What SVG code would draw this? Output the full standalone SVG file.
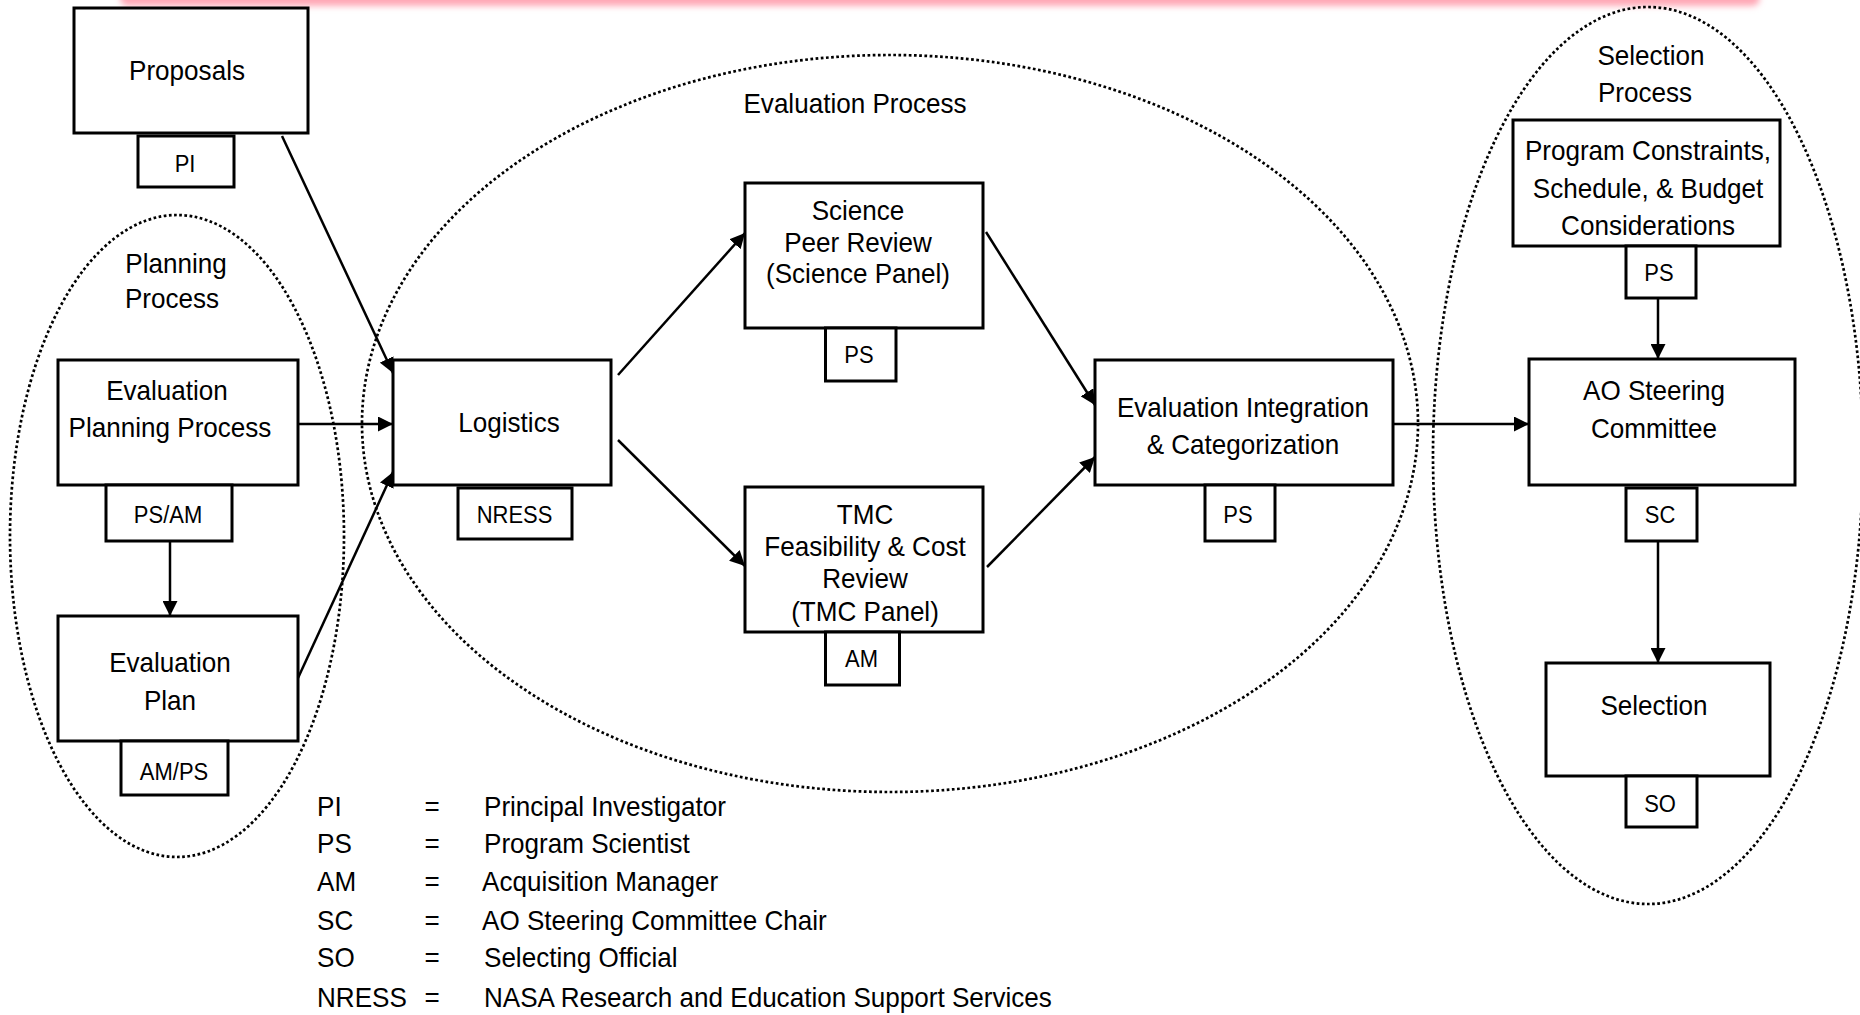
<svg xmlns="http://www.w3.org/2000/svg" width="1860" height="1015" viewBox="0 0 1860 1015">
  <style>
    .box { fill: #ffffff; stroke: #000000; stroke-width: 3; }
    .grp { fill: none; stroke: #000000; stroke-width: 2.7; stroke-dasharray: 2.7 2.5; }
    .con { fill: none; stroke: #000000; stroke-width: 2.5; marker-end: url(#arr); }
    text { font-family: "Liberation Sans", Arial, sans-serif; fill: #000000; }
    .t { font-size: 28.5px; text-anchor: middle; }
    .s { font-size: 24px; text-anchor: middle; }
    .l { font-size: 28.5px; text-anchor: start; }
    .lm { font-size: 28.5px; text-anchor: middle; }
  </style>
  <defs>
    <marker id="arr" markerUnits="userSpaceOnUse" markerWidth="15" markerHeight="15" refX="15" refY="7.5" orient="auto">
      <path d="M0,0 L15,7.5 L0,15 z" fill="#000000"/>
    </marker>
    <filter id="blur" x="-5%" y="-100%" width="110%" height="300%">
      <feGaussianBlur stdDeviation="3"/>
    </filter>
  </defs>
  <rect x="0" y="0" width="1860" height="1015" fill="#ffffff"/>
  <rect x="120" y="-10" width="1640" height="16" rx="8" fill="#ffa8b6" filter="url(#blur)"/>

  <!-- group ellipses -->
  <g id="planning-process">
    <ellipse class="grp" cx="177" cy="536" rx="167" ry="321"/>
    <text class="t" transform="translate(176,273) scale(0.915 1)">Planning</text>
    <text class="t" transform="translate(172,308) scale(0.915 1)">Process</text>
  </g>
  <g id="evaluation-process">
    <ellipse class="grp" cx="890" cy="423.5" rx="528" ry="368.5"/>
    <text class="t" transform="translate(855,113) scale(0.915 1)">Evaluation Process</text>
  </g>
  <g id="selection-process">
    <ellipse class="grp" cx="1648" cy="455.5" rx="215" ry="448.5"/>
    <text class="t" transform="translate(1651,65) scale(0.915 1)">Selection</text>
    <text class="t" transform="translate(1645,102) scale(0.915 1)">Process</text>
  </g>

  <!-- connectors -->
  <g id="connectors">
    <line class="con" x1="282" y1="136" x2="393" y2="373"/>
    <line class="con" x1="298" y1="424" x2="393" y2="424"/>
    <line class="con" x1="170" y1="541" x2="170" y2="616"/>
    <line class="con" x1="298" y1="678" x2="393" y2="472"/>
    <line class="con" x1="618" y1="375" x2="745" y2="233"/>
    <line class="con" x1="618" y1="440" x2="745" y2="566"/>
    <line class="con" x1="986" y1="232" x2="1095" y2="405"/>
    <line class="con" x1="987" y1="567" x2="1095" y2="457"/>
    <line class="con" x1="1393" y1="424" x2="1529" y2="424"/>
    <line class="con" x1="1658" y1="298" x2="1658" y2="359"/>
    <line class="con" x1="1658" y1="541" x2="1658" y2="663"/>
  </g>

  <!-- nodes -->
  <g id="proposals">
    <rect class="box" x="74" y="8" width="234" height="125"/>
    <text class="t" transform="translate(187,80) scale(0.915 1)">Proposals</text>
  </g>
  <g id="proposals-role">
    <rect class="box" x="138" y="136" width="96" height="51"/>
    <text class="s" transform="translate(185,172) scale(0.915 1)">PI</text>
  </g>
  <g id="evaluation-planning-process">
    <rect class="box" x="58" y="360" width="240" height="125"/>
    <text class="t" transform="translate(167,400) scale(0.915 1)">Evaluation</text>
    <text class="t" transform="translate(170,437) scale(0.915 1)">Planning Process</text>
  </g>
  <g id="evaluation-planning-role">
    <rect class="box" x="106" y="485" width="126" height="56"/>
    <text class="s" transform="translate(168,523) scale(0.915 1)">PS/AM</text>
  </g>
  <g id="evaluation-plan">
    <rect class="box" x="58" y="616" width="240" height="125"/>
    <text class="t" transform="translate(170,672) scale(0.915 1)">Evaluation</text>
    <text class="t" transform="translate(170,710) scale(0.915 1)">Plan</text>
  </g>
  <g id="evaluation-plan-role">
    <rect class="box" x="121" y="741" width="107" height="54"/>
    <text class="s" transform="translate(174,780) scale(0.915 1)">AM/PS</text>
  </g>
  <g id="logistics">
    <rect class="box" x="393" y="360" width="218" height="125"/>
    <text class="t" transform="translate(509,432) scale(0.915 1)">Logistics</text>
  </g>
  <g id="logistics-role">
    <rect class="box" x="458" y="488" width="114" height="51"/>
    <text class="s" transform="translate(514.5,523) scale(0.915 1)">NRESS</text>
  </g>
  <g id="science-peer-review">
    <rect class="box" x="745" y="183" width="238" height="145"/>
    <text class="t" transform="translate(858,220) scale(0.915 1)">Science</text>
    <text class="t" transform="translate(858,252) scale(0.915 1)">Peer Review</text>
    <text class="t" transform="translate(858,283) scale(0.915 1)">(Science Panel)</text>
  </g>
  <g id="science-role">
    <rect class="box" x="825.5" y="328" width="70.5" height="53"/>
    <text class="s" transform="translate(859,363) scale(0.915 1)">PS</text>
  </g>
  <g id="tmc-review">
    <rect class="box" x="745" y="487" width="238" height="145"/>
    <text class="t" transform="translate(865,524) scale(0.915 1)">TMC</text>
    <text class="t" transform="translate(865,556) scale(0.915 1)">Feasibility &amp; Cost</text>
    <text class="t" transform="translate(865,588) scale(0.915 1)">Review</text>
    <text class="t" transform="translate(865,621) scale(0.915 1)">(TMC Panel)</text>
  </g>
  <g id="tmc-role">
    <rect class="box" x="825.5" y="632" width="74" height="53"/>
    <text class="s" transform="translate(861.5,667) scale(0.915 1)">AM</text>
  </g>
  <g id="evaluation-integration">
    <rect class="box" x="1095" y="360" width="298" height="125"/>
    <text class="t" transform="translate(1243,417) scale(0.915 1)">Evaluation Integration</text>
    <text class="t" transform="translate(1243,454) scale(0.915 1)">&amp; Categorization</text>
  </g>
  <g id="evaluation-integration-role">
    <rect class="box" x="1205" y="485" width="70" height="56"/>
    <text class="s" transform="translate(1238,523) scale(0.915 1)">PS</text>
  </g>
  <g id="program-constraints">
    <rect class="box" x="1513" y="120" width="267" height="126"/>
    <text class="t" transform="translate(1648,160) scale(0.915 1)">Program Constraints,</text>
    <text class="t" transform="translate(1648,198) scale(0.915 1)">Schedule, &amp; Budget</text>
    <text class="t" transform="translate(1648,235) scale(0.915 1)">Considerations</text>
  </g>
  <g id="program-constraints-role">
    <rect class="box" x="1626" y="246" width="70" height="52"/>
    <text class="s" transform="translate(1659,281) scale(0.915 1)">PS</text>
  </g>
  <g id="ao-steering-committee">
    <rect class="box" x="1529" y="359" width="266" height="126"/>
    <text class="t" transform="translate(1654,400) scale(0.915 1)">AO Steering</text>
    <text class="t" transform="translate(1654,438) scale(0.915 1)">Committee</text>
  </g>
  <g id="ao-steering-role">
    <rect class="box" x="1626" y="488" width="71" height="53"/>
    <text class="s" transform="translate(1660,523) scale(0.915 1)">SC</text>
  </g>
  <g id="selection">
    <rect class="box" x="1546" y="663" width="224" height="113"/>
    <text class="t" transform="translate(1654,715) scale(0.915 1)">Selection</text>
  </g>
  <g id="selection-role">
    <rect class="box" x="1626" y="776" width="71" height="51"/>
    <text class="s" transform="translate(1660,812) scale(0.915 1)">SO</text>
  </g>

  <!-- legend -->
  <g id="legend">
    <text class="l" transform="translate(317,816) scale(0.915 1)">PI</text>
    <text class="lm" transform="translate(432,816) scale(0.915 1)">=</text>
    <text class="l" transform="translate(484,816) scale(0.915 1)">Principal Investigator</text>
    <text class="l" transform="translate(317,853) scale(0.915 1)">PS</text>
    <text class="lm" transform="translate(432,853) scale(0.915 1)">=</text>
    <text class="l" transform="translate(484,853) scale(0.915 1)">Program Scientist</text>
    <text class="l" transform="translate(317,891) scale(0.915 1)">AM</text>
    <text class="lm" transform="translate(432,891) scale(0.915 1)">=</text>
    <text class="l" transform="translate(482,891) scale(0.915 1)">Acquisition Manager</text>
    <text class="l" transform="translate(317,930) scale(0.915 1)">SC</text>
    <text class="lm" transform="translate(432,930) scale(0.915 1)">=</text>
    <text class="l" transform="translate(482,930) scale(0.915 1)">AO Steering Committee Chair</text>
    <text class="l" transform="translate(317,967) scale(0.915 1)">SO</text>
    <text class="lm" transform="translate(432,967) scale(0.915 1)">=</text>
    <text class="l" transform="translate(484,967) scale(0.915 1)">Selecting Official</text>
    <text class="l" transform="translate(317,1007) scale(0.915 1)">NRESS</text>
    <text class="lm" transform="translate(432,1007) scale(0.915 1)">=</text>
    <text class="l" transform="translate(484,1007) scale(0.915 1)">NASA Research and Education Support Services</text>
  </g>
</svg>
